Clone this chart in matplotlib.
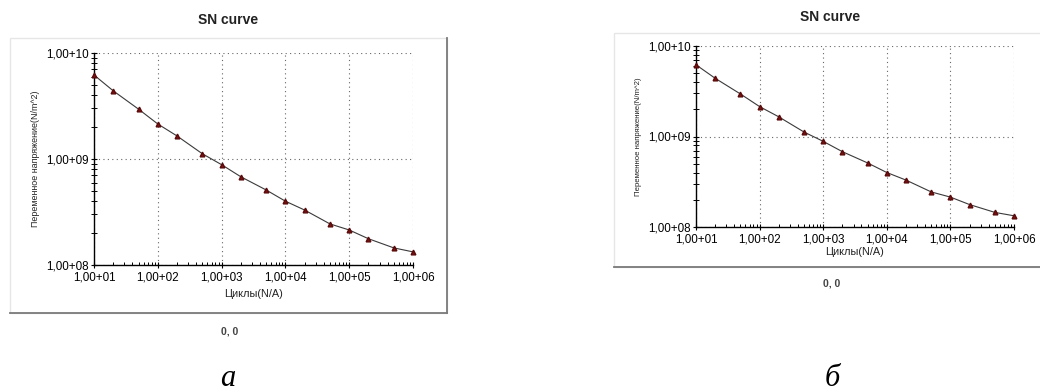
import matplotlib
matplotlib.use("Agg")
import matplotlib.pyplot as plt
from matplotlib.patches import Rectangle
from matplotlib.lines import Line2D
from matplotlib.ticker import LogLocator, FixedLocator, NullFormatter

plt.rcParams['font.family'] = ['Liberation Sans', 'DejaVu Sans']

# S-N data: number of cycles and alternating stress (N/m^2)
cycles = [1e1, 2e1, 5e1, 1e2, 2e2, 5e2, 1e3, 2e3, 5e3, 1e4, 2e4, 5e4, 1e5, 2e5, 5e5, 1e6]
stress = [6.2e9, 4.4e9, 2.95e9, 2.14e9, 1.65e9, 1.12e9, 8.84e8, 6.8e8, 5.1e8,
          4.0e8, 3.3e8, 2.44e8, 2.14e8, 1.77e8, 1.45e8, 1.33e8]

x_ticks = [1e1, 1e2, 1e3, 1e4, 1e5, 1e6]
x_tick_labels = ['1,00+01', '1,00+02', '1,00+03', '1,00+04', '1,00+05', '1,00+06']
y_ticks = [1e8, 1e9, 1e10]
y_tick_labels = ['1,00+08', '1,00+09', '1,00+10']

title = 'SN curve'
xlabel = 'Циклы(N/A)'
ylabel = 'Переменное напряжение(N/m^2)'
status = '0, 0'
panel_letters = ['а', 'б']

W, H = 1040, 391
fig = plt.figure(figsize=(W / 100, H / 100), dpi=100)
fig.patch.set_facecolor('white')


def px(x0, y0, x1, y1):
    """pixel box -> figure fraction rect [left, bottom, width, height]"""
    return [x0 / W, 1 - y1 / H, (x1 - x0) / W, (y1 - y0) / H]


def frame(x0, y0, x1, y1):
    # light window frame with a darker shadow on the bottom and right
    l, b, w, h = px(x0, y0, x1, y1)
    fig.add_artist(Rectangle((l, b), w, h, transform=fig.transFigure,
                             facecolor='white', edgecolor='#e6e6e6', lw=1.0, zorder=0))
    fig.add_artist(Line2D([l, l + w], [b, b], transform=fig.transFigure,
                          color='#7a7a7a', lw=1.3, zorder=1))
    fig.add_artist(Line2D([l + w, l + w], [b, b + h], transform=fig.transFigure,
                          color='#7a7a7a', lw=1.3, zorder=1))


def sn_panel(rect, title_xy, status_xy, letter_xy, letter, ylabel_x, ylabel_size, xlabel_pad):
    ax = fig.add_axes(rect)
    ax.set_xscale('log')
    ax.set_yscale('log')
    ax.set_xlim(1e1, 1e6)
    ax.set_ylim(1e8, 1e10)
    ax.plot(cycles, stress, color='#3a3a3a', lw=0.8, zorder=3, clip_on=False)
    ax.plot(cycles, stress, ls='none', marker='^', ms=3.4, color='#7a1010',
            mec='#5a0a0a', zorder=4, clip_on=False)

    ax.xaxis.set_major_locator(FixedLocator(x_ticks))
    ax.set_xticklabels(x_tick_labels)
    ax.yaxis.set_major_locator(FixedLocator(y_ticks))
    ax.set_yticklabels(y_tick_labels)
    ax.xaxis.set_minor_locator(LogLocator(base=10, subs=range(2, 10)))
    ax.yaxis.set_minor_locator(LogLocator(base=10, subs=range(2, 10)))
    ax.xaxis.set_minor_formatter(NullFormatter())
    ax.yaxis.set_minor_formatter(NullFormatter())

    ax.tick_params(which='major', direction='inout', length=5, width=0.8,
                   labelsize=8.4, pad=1, colors='black')
    ax.tick_params(axis='x', which='major', pad=2)
    ax.tick_params(which='minor', direction='in', length=2.5, width=0.7)
    ax.tick_params(axis='y', which='minor', direction='inout', length=4)

    ax.grid(True, which='major', ls=(0, (1, 3)), color='#666666', lw=0.8)
    for s in ('top', 'right'):
        ax.spines[s].set_visible(False)
    for s in ('left', 'bottom'):
        ax.spines[s].set_linewidth(1.0)
        ax.spines[s].set_color('black')

    ax.set_xlabel(xlabel, fontsize=7.8, labelpad=xlabel_pad, color='#222222')
    ax.set_ylabel(ylabel, fontsize=ylabel_size, color='#222222',
                  family=['Liberation Sans Narrow', 'Liberation Sans', 'DejaVu Sans'])
    ax.yaxis.set_label_coords(ylabel_x, 0.5)

    fig.text(title_xy[0] / W, 1 - title_xy[1] / H, title, ha='center', va='center',
             fontsize=10, fontweight='bold', color='#222222')
    fig.text(status_xy[0] / W, 1 - status_xy[1] / H, status, ha='center', va='center',
             fontsize=7.5, fontweight='bold', color='#444444',
             family=['Liberation Sans', 'DejaVu Sans'])
    fig.text(letter_xy[0] / W, 1 - letter_xy[1] / H, letter, ha='center', va='center',
             fontsize=22, style='italic', family=['Liberation Serif', 'DejaVu Serif'])
    return ax


# panel a
frame(10, 38, 447, 313)
sn_panel(px(94, 53, 413, 265), (228, 20), (230, 331), (228, 378), panel_letters[0],
         -0.17, 6.4, 4)

# panel б
frame(614, 33, 1045, 267)
sn_panel(px(696, 46, 1014, 227), (830, 17), (832, 283), (832, 378), panel_letters[1],
         -0.17, 5.6, 1)

fig.savefig('out.png', dpi=100, facecolor='white')
